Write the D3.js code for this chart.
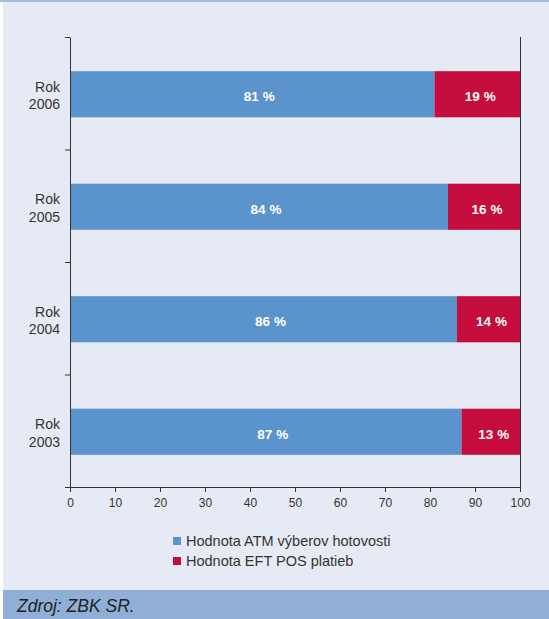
<!DOCTYPE html>
<html>
<head>
<meta charset="utf-8">
<script src="https://cdn.jsdelivr.net/npm/d3@7"></script>
<style>
  body { margin: 0; background: #fff; }
  svg { display: block; font-family: "Liberation Sans", Arial, sans-serif; }
  .axis path, .axis line { stroke: #333; }
  .axis text { fill: #333; font-size: 12px; }
</style>
</head>
<body>
<svg id="chart" width="549" height="619"></svg>
<script>
// data
var years = ["2006", "2005", "2004", "2003"];
var atm = [81, 84, 86, 87];
var eft = [19, 16, 14, 13];
var seriesNames = ["Hodnota ATM výberov hotovosti", "Hodnota EFT POS platieb"];
var colors = ["#5b93cc", "#c40d3c"];
var xTicks = [0, 10, 20, 30, 40, 50, 60, 70, 80, 90, 100];

var W = 549, H = 619;
var mLeft = 70, mRight = 520, mTop = 37, mBottom = 487;

var svg = d3.select("#chart");

// background pieces
svg.append("rect").attr("x", 3).attr("y", 0).attr("width", W - 3).attr("height", H)
  .attr("fill", "#e6eaf4");
svg.append("rect").attr("x", 0).attr("y", 0).attr("width", W).attr("height", 2)
  .attr("fill", "#a3bbdd");
svg.append("rect").attr("x", 3).attr("y", 590).attr("width", W - 3).attr("height", H - 590)
  .attr("fill", "#8fafd7");
svg.append("text").attr("x", 17).attr("y", 612)
  .attr("font-size", "17.5px").attr("font-style", "italic").attr("fill", "#222")
  .text("Zdroj: ZBK SR.");

var x = d3.scaleLinear().domain([0, 100]).range([mLeft, mRight]);
var y = d3.scaleBand().domain(years).range([mTop, mBottom])
  .paddingInner(0.59).paddingOuter(0.295);

var rows = years.map(function(yr, i) {
  return {year: yr, parts: [
    {x0: 0, x1: atm[i], v: atm[i], c: colors[0], year: yr},
    {x0: atm[i], x1: atm[i] + eft[i], v: eft[i], c: colors[1], year: yr}
  ]};
});

var g = svg.selectAll(".row").data(rows).enter().append("g").attr("class", "row");

g.selectAll("rect").data(function(d) { return d.parts; })
  .enter().append("rect")
    .attr("x", function(p) { return x(p.x0); })
    .attr("y", function(p) { return y(p.year) + 1; })
    .attr("width", function(p) { return x(p.x1) - x(p.x0); })
    .attr("height", y.bandwidth())
    .attr("fill", function(p) { return p.c; });

g.selectAll(".lbl").data(function(d) { return d.parts; })
  .enter().append("text")
    .attr("class", "lbl")
    .attr("x", function(p) { return (x(p.x0) + x(p.x1)) / 2 + (p.c == colors[0] ? 7 : 3); })
    .attr("y", function(p) { return y(p.year) + y.bandwidth() / 2 + 8; })
    .attr("text-anchor", "middle")
    .attr("font-size", "13.5px").attr("font-weight", "bold").attr("fill", "#fff")
    .text(function(p) { return p.v + " %"; });

// x axis
svg.append("g").attr("class", "axis")
  .attr("transform", "translate(0," + mBottom + ")")
  .call(d3.axisBottom(x).tickValues(xTicks).tickSize(5).tickSizeOuter(0))
  .call(function(a) { a.select(".domain").attr("d", "M" + (mLeft - 5) + ",0.5H" + mRight); })
  .selectAll("text").attr("dy", "1em");

// y axis: ticks on band boundaries
var yb = d3.scaleLinear().domain([0, 4]).range([mBottom, mTop]);
svg.append("g").attr("class", "axis")
  .attr("transform", "translate(" + mLeft + ",0)")
  .call(d3.axisLeft(yb).ticks(4).tickSize(5).tickSizeOuter(0).tickFormat(""))
  .call(function(a) { a.selectAll(".tick").filter(function(d) { return d == 0; }).remove(); });

// right frame line
svg.append("line").attr("x1", mRight + 0.5).attr("x2", mRight + 0.5)
  .attr("y1", mTop).attr("y2", mBottom).attr("stroke", "#333");

// category labels
var cat = svg.selectAll(".cat").data(years).enter().append("text")
  .attr("class", "cat")
  .attr("x", mLeft - 10)
  .attr("y", function(d) { return y(d) + y.bandwidth() / 2; })
  .attr("text-anchor", "end").attr("font-size", "14px").attr("fill", "#333");
cat.append("tspan").attr("x", mLeft - 10).attr("dy", "-0.1em").text("Rok");
cat.append("tspan").attr("x", mLeft - 10).attr("dy", "1.25em").text(function(d) { return d; });

// legend
var leg = svg.selectAll(".leg").data(seriesNames).enter().append("g")
  .attr("transform", function(d, i) { return "translate(173," + (537 + i * 20) + ")"; });
leg.append("rect").attr("width", 8).attr("height", 8)
  .attr("fill", function(d, i) { return colors[i]; });
leg.append("text").attr("x", 13).attr("y", 9)
  .attr("font-size", "14.5px").attr("fill", "#333")
  .text(function(d) { return d; });
</script>
</body>
</html>
